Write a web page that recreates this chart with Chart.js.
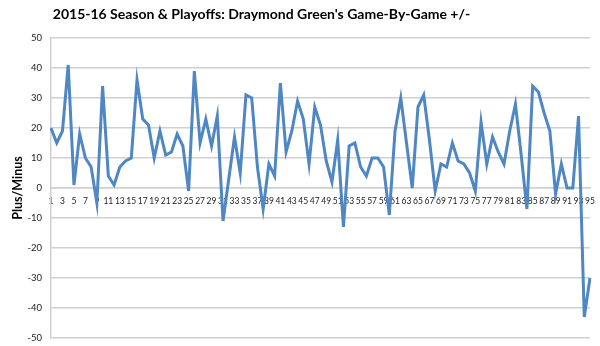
<!DOCTYPE html>
<html>
<head>
<meta charset="utf-8">
<script src="https://cdn.jsdelivr.net/npm/chart.js@4"></script>
<style>
  body { margin: 0; background: #fff; }
  #wrap { position: relative; width: 600px; height: 346px; }
  #title {
    position: absolute; top: 5px; left: 0; width: 523px;
    text-align: center; font: bold 14px Lato, sans-serif; color: #000;
  }
  canvas { display: block; }
</style>
</head>
<body>
<div id="wrap">
  <div id="title">2015-16 Season &amp; Playoffs: Draymond Green's Game-By-Game +/-</div>
  <canvas id="chart" width="600" height="346"></canvas>
</div>
<script>
  // game numbers 1..95
  const games = [
    1, 2, 3, 4, 5, 6, 7, 8, 9, 10, 11, 12, 13, 14, 15, 16, 17, 18, 19, 20,
    21, 22, 23, 24, 25, 26, 27, 28, 29, 30, 31, 32, 33, 34, 35, 36, 37, 38, 39, 40,
    41, 42, 43, 44, 45, 46, 47, 48, 49, 50, 51, 52, 53, 54, 55, 56, 57, 58, 59, 60,
    61, 62, 63, 64, 65, 66, 67, 68, 69, 70, 71, 72, 73, 74, 75, 76, 77, 78, 79, 80,
    81, 82, 83, 84, 85, 86, 87, 88, 89, 90, 91, 92, 93, 94, 95
  ];

  const plusMinus = [
    20, 15, 19, 41, 1, 18, 10, 7, -5, 34, 4, 1, 7, 9, 10, 36, 23, 21, 10, 19,
    11, 12, 18, 14, -1, 39, 15, 23, 14, 24, -11, 3, 17, 5, 31, 30, 7, -7, 8, 4,
    35, 12, 19, 29, 23, 8, 27, 21, 9, 2, 16, -13, 14, 15, 7, 4, 10, 10, 7, -9,
    19, 30, 15, 0, 27, 31, 16, -1, 8, 7, 15, 9, 8, 5, -1, 22, 8, 17, 12, 8,
    19, 28, 11, -7, 34, 32, 25, 19, -2, 8, 0, 0, 24, -43, -30
  ];

  const yTicks = [-50, -40, -30, -20, -10, 0, 10, 20, 30, 40, 50];

  new Chart(document.getElementById("chart"), {
    type: "line",
    data: {
      labels: games,
      datasets: [
        {
          label: "Plus/Minus",
          data: plusMinus,
          borderColor: "#4f86c4",
          borderWidth: 3,
          pointRadius: 0,
          tension: 0,
          fill: false,
        },
      ],
    },
    options: {
      responsive: false,
      animation: false,
      layout: { padding: { top: 38, right: 10, bottom: 8, left: 0 } },
      plugins: {
        legend: { display: false },
        tooltip: { enabled: false },
      },
      scales: {
        x: {
          type: "category",
          position: { y: 0 },
          offset: false,
          afterFit: (scale) => {
            scale.paddingLeft = 0;
            scale.paddingRight = 0;
          },
          grid: { display: false, drawTicks: false },
          border: { display: true, color: "#d0d0d0", width: 1.5 },
          ticks: {
            autoSkip: false,
            maxRotation: 0,
            minRotation: 0,
            padding: 8,
            color: "#222",
            font: { size: 8.5, family: "Lato, sans-serif" },
            callback: function (val, i) {
              return i % 2 === 0 ? games[i] : "";
            },
          },
        },
        y: {
          min: -50,
          max: 50,
          afterBuildTicks: (scale) => {
            scale.ticks = yTicks.map((v) => ({ value: v }));
          },
          afterFit: (scale) => {
            scale.width = 51;
            scale.paddingTop = 0;
            scale.paddingBottom = 0;
          },
          grid: { color: "#d0d0d0", lineWidth: 1.5, drawTicks: false },
          border: { display: true, color: "#d0d0d0", width: 1.5 },
          ticks: {
            padding: 9,
            color: "#222",
            font: { size: 9.5, family: "Lato, sans-serif" },
          },
          title: {
            display: true,
            text: "Plus/Minus",
            color: "#000",
            padding: { top: 10, bottom: 0 },
            font: { size: 12.5, weight: "bold", family: "Lato, sans-serif" },
          },
        },
      },
    },
  });
</script>
</body>
</html>
